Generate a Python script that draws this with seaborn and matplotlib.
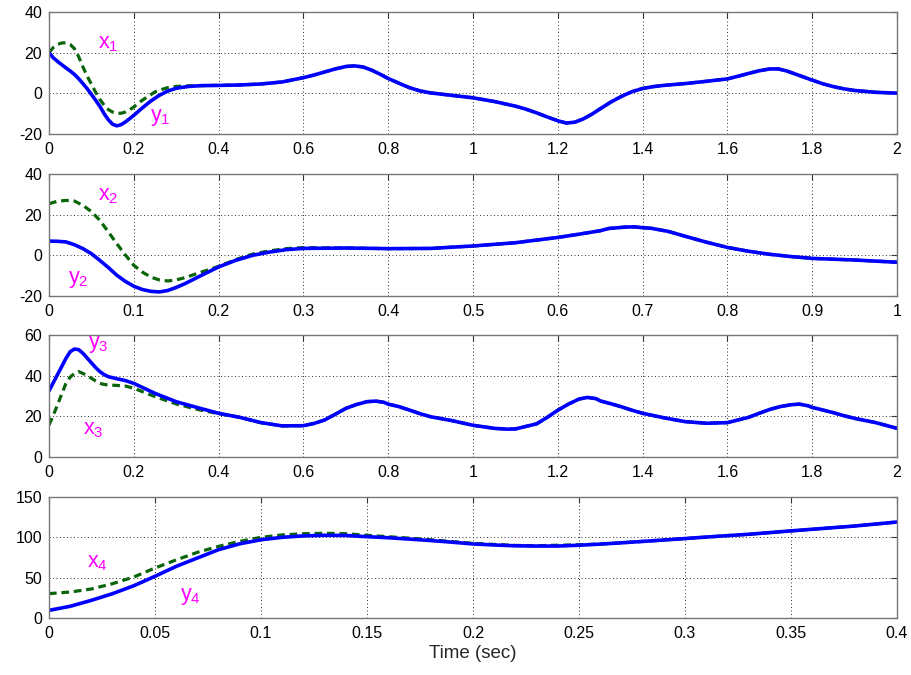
import matplotlib
matplotlib.use("Agg")
import matplotlib.pyplot as plt
from matplotlib.ticker import FormatStrFormatter, MultipleLocator
import seaborn as sns

# ---------------- data ----------------
# Panel 1 (0..2 s)
t1 = [0, 0.01, 0.02, 0.03, 0.04, 0.05, 0.06, 0.07, 0.08, 0.09, 0.1, 0.11,
      0.12, 0.13, 0.14, 0.15, 0.16, 0.17, 0.18, 0.19, 0.2, 0.22, 0.24, 0.26,
      0.28, 0.3, 0.33, 0.36, 0.4, 0.45, 0.5, 0.55, 0.6, 0.625, 0.65, 0.675,
      0.7, 0.72, 0.74, 0.76, 0.78, 0.8, 0.825, 0.85, 0.875, 0.9, 0.95, 1.0,
      1.05, 1.1, 1.125, 1.15, 1.175, 1.2, 1.22, 1.24, 1.26, 1.28, 1.3, 1.325,
      1.35, 1.375, 1.4, 1.425, 1.45, 1.5, 1.55, 1.6, 1.625, 1.65, 1.675, 1.7,
      1.72, 1.74, 1.76, 1.78, 1.8, 1.825, 1.85, 1.875, 1.9, 1.95, 2.0]
y1 = [20, 17.5, 15.7, 14.1, 12.5, 11, 9.3, 7.2, 4.8, 2.3, -0.5, -3.4,
      -6.4, -10, -13, -15.2, -16, -15.4, -14.1, -12.5, -10.8, -7.2, -3.8, -1,
      1.1, 2.5, 3.4, 3.8, 3.9, 4.1, 4.6, 5.6, 7.7, 9, 10.5, 12,
      13.2, 13.5, 13, 11.5, 9.5, 7.3, 5, 2.8, 1.2, 0.2, -1, -2.2,
      -4, -6.3, -7.8, -9.6, -11.6, -13.5, -14.6, -14.2, -12.6, -10.3, -7.6, -4.3,
      -1.5, 0.8, 2.4, 3.3, 3.9, 4.8, 5.9, 7.1, 8.4, 9.8, 11.1, 12.0,
      12.0, 11, 9.5, 8, 6.5, 4.7, 3.3, 2.2, 1.4, 0.5, 0.1]
t1x = [0, 0.01, 0.02, 0.03, 0.04, 0.05, 0.06, 0.07, 0.08, 0.09, 0.1, 0.11,
       0.12, 0.13, 0.14, 0.15, 0.16, 0.17, 0.18, 0.19, 0.2, 0.21, 0.22, 0.23,
       0.25, 0.26, 0.28, 0.3, 0.33]
x1 = [20, 22.5, 24, 24.8, 24.8, 24, 22, 18, 13, 8.5, 4.5, 0.5,
      -3, -5.8, -8, -9.2, -9.8, -9.8, -9.2, -8.2, -6.7, -5, -3.4, -2,
      0.7, 1.5, 2.8, 3.4, 3.7]

# Panel 2 (0..1 s)
t2 = [0, 0.01, 0.02, 0.03, 0.04, 0.05, 0.06, 0.07, 0.08, 0.09, 0.1, 0.11,
      0.12, 0.13, 0.14, 0.15, 0.16, 0.18, 0.2, 0.22, 0.24, 0.26, 0.28, 0.3,
      0.35, 0.4, 0.45, 0.5, 0.55, 0.6, 0.625, 0.65, 0.66, 0.68, 0.69, 0.7,
      0.71, 0.73, 0.75, 0.775, 0.8, 0.825, 0.85, 0.875, 0.9, 0.95, 1.0]
y2 = [7, 6.9, 6.6, 5.2, 3.3, 0.8, -2.5, -6, -9.8, -12.8, -15.2, -16.8,
      -17.7, -18, -17.3, -15.8, -14, -9.8, -5.7, -2.5, 0, 1.6, 2.8, 3.4,
      3.6, 3.3, 3.4, 4.6, 6.2, 8.8, 10.4, 12.1, 13.2, 13.9, 14, 13.6,
      13.3, 11.8, 9.4, 6.5, 3.9, 2, 0.5, -0.6, -1.5, -2.3, -3.4]
t2x = [0, 0.01, 0.02, 0.03, 0.04, 0.05, 0.06, 0.07, 0.08, 0.09, 0.1, 0.11,
       0.12, 0.13, 0.14, 0.15, 0.16, 0.18, 0.2, 0.22, 0.24, 0.26, 0.28, 0.3]
x2 = [25.4, 26.6, 27, 26.7, 24.6, 21.5, 17.2, 11.5, 5.7, 0.2, -4.9, -8.2,
      -10.7, -12.1, -12.6, -12.1, -11, -8.2, -5.4, -2.1, 0.6, 2.2, 3.3, 3.8]

# Panel 3 (0..2 s)
t3 = [0, 0.01, 0.02, 0.03, 0.04, 0.05, 0.06, 0.07, 0.08, 0.09, 0.1, 0.11,
      0.12, 0.13, 0.14, 0.16, 0.18, 0.2, 0.25, 0.3, 0.35, 0.4, 0.45, 0.5,
      0.55, 0.6, 0.625, 0.65, 0.675, 0.7, 0.725, 0.75, 0.77, 0.79, 0.8,
      0.825, 0.85, 0.875, 0.9, 0.95, 1.0, 1.05, 1.08, 1.1, 1.15, 1.175, 1.2,
      1.225, 1.25, 1.27, 1.29, 1.3, 1.325, 1.35, 1.375, 1.4, 1.45, 1.5, 1.55,
      1.6, 1.65, 1.675, 1.7, 1.725, 1.75, 1.77, 1.79, 1.8, 1.825, 1.85,
      1.875, 1.9, 1.95, 2.0]
y3 = [32.5, 36.5, 40.5, 44.5, 48.5, 51.8, 53.1, 52.8, 51, 48.7, 46.3, 44,
      42, 40.5, 39.5, 38.5, 37.6, 36.2, 31.3, 27.2, 24.3, 21.5, 19.5, 16.9,
      15.3, 15.4, 16.5, 18.2, 21, 23.9, 25.8, 27.2, 27.5, 26.9, 26,
      24.8, 23.1, 21.3, 19.8, 17.9, 15.6, 14.1, 13.7, 13.8, 16.3, 19.5, 23,
      26, 28.5, 29.3, 28.7, 27.6, 26.2, 24.7, 23, 21.5, 19.3, 17.4, 16.6,
      16.9, 19.5, 21.5, 23.4, 24.8, 25.7, 26, 25.2, 24.4, 23.1, 21.8,
      20.3, 19, 16.9, 14.1]
t3x = [0, 0.01, 0.02, 0.03, 0.04, 0.05, 0.06, 0.07, 0.08, 0.09, 0.1, 0.11,
       0.12, 0.13, 0.14, 0.16, 0.18, 0.2, 0.25, 0.3, 0.35, 0.4]
x3 = [15.7, 20.5, 25.6, 31, 36.2, 39.3, 41.1, 42, 41.1, 40, 38.7, 37.4,
      36.2, 35.7, 35.4, 35.2, 34.9, 33.8, 29.7, 26.1, 23.4, 21.3]

# Panel 4 (0..0.4 s)
t4 = [0, 0.01, 0.02, 0.03, 0.04, 0.05, 0.06, 0.07, 0.08, 0.09, 0.1, 0.11,
      0.12, 0.13, 0.14, 0.15, 0.16, 0.17, 0.18, 0.19, 0.2, 0.21, 0.22, 0.23,
      0.24, 0.25, 0.26, 0.27, 0.285, 0.3, 0.315, 0.33, 0.35, 0.365, 0.38,
      0.39, 0.4]
y4 = [9.5, 14.5, 21.9, 30.2, 40, 51.7, 64, 74.4, 84.7, 92, 97, 100,
      101.8, 102.5, 102.3, 100.8, 99.5, 97.8, 96, 94, 91.8, 90.5, 89.5, 89.2,
      89.2, 90.2, 91.6, 93.2, 95.8, 98.5, 101.2, 103.8, 108, 111, 114,
      116.5, 119]
t4x = [0, 0.01, 0.02, 0.03, 0.04, 0.05, 0.06, 0.07, 0.08, 0.09, 0.1, 0.11,
       0.12, 0.13, 0.14, 0.15, 0.16, 0.17, 0.18, 0.19, 0.2, 0.21, 0.22, 0.23,
       0.24, 0.25]
x4 = [30.2, 32.2, 36, 42.6, 50.8, 62, 72, 81.4, 88.8, 95, 100, 103,
      104.5, 105, 104.5, 102.5, 100.8, 99, 97, 94.8, 92.6, 91.2, 90, 89.6,
      90.2, 90.8]

# axis limits / ticks per panel
xlims = [(0, 2), (0, 1), (0, 2), (0, 0.4)]
xsteps = [0.2, 0.1, 0.2, 0.05]
ylims = [(-20, 40), (-20, 40), (0, 60), (0, 150)]
ysteps = [20, 20, 20, 50]

# annotation labels: (text, t, value)
labels = [
    [(r"$\mathregular{x_1}$", 0.116, 22.3), (r"$\mathregular{y_1}$", 0.238, -13.5)],
    [(r"$\mathregular{x_2}$", 0.058, 26.9), (r"$\mathregular{y_2}$", 0.0224, -13.5)],
    [(r"$\mathregular{y_3}$", 0.092, 53.5), (r"$\mathregular{x_3}$", 0.080, 11.2)],
    [(r"$\mathregular{x_4}$", 0.0179, 62.4), (r"$\mathregular{y_4}$", 0.0618, 22.4)],
]

# ---------------- style ----------------
sns.set_theme(style="white")
plt.rcParams["font.family"] = ["Liberation Sans", "DejaVu Sans"]
plt.rcParams["mathtext.fontset"] = "custom"
plt.rcParams["mathtext.rm"] = "Liberation Sans"
plt.rcParams["mathtext.it"] = "Liberation Sans:italic"
plt.rcParams["axes.unicode_minus"] = False

BLUE = "#0000ff"
GREEN = "#0a640a"
MAGENTA = "#ff00ff"

fig = plt.figure(figsize=(9.12, 6.75), dpi=100)
W = 912.0
H = 675.0
boxes = [(12, 134), (174, 296), (335, 457), (497, 618)]

panels = [
    (t1, y1, t1x, x1),
    (t2, y2, t2x, x2),
    (t3, y3, t3x, x3),
    (t4, y4, t4x, x4),
]

for i, ((tb, yb, tg, xg), (top, bot)) in enumerate(zip(panels, boxes)):
    ax = fig.add_axes([49 / W, 1 - bot / H, 848 / W, (bot - top) / H])

    # dashed reference trace continues under the solid one once they merge
    tg_full = list(tg) + [t for t in tb if t > tg[-1]]
    xg_full = list(xg) + [v for t, v in zip(tb, yb) if t > tg[-1]]

    sns.lineplot(x=tg_full, y=xg_full, ax=ax, color=GREEN, linewidth=2.3,
                 linestyle="--")
    ax.lines[-1].set_dashes((2.4, 1.5))
    sns.lineplot(x=tb, y=yb, ax=ax, color=BLUE, linewidth=2.6)

    ax.set_xlim(*xlims[i])
    ax.set_ylim(*ylims[i])
    ax.xaxis.set_major_locator(MultipleLocator(xsteps[i]))
    ax.yaxis.set_major_locator(MultipleLocator(ysteps[i]))
    ax.xaxis.set_major_formatter(FormatStrFormatter("%g"))
    ax.yaxis.set_major_formatter(FormatStrFormatter("%g"))

    ax.grid(True, linestyle=(0, (1, 2.6)), color="#333333", linewidth=0.7)
    ax.tick_params(direction="in", length=4, width=0.8, color="#333333",
                   top=True, right=True, labelsize=11.5, labelcolor="black")
    ax.tick_params(axis="x", pad=6)
    ax.tick_params(axis="y", pad=5)
    for s in ax.spines.values():
        s.set_color("#777777")
        s.set_linewidth(1.0)
    ax.set_ylabel("")
    ax.set_xlabel("")

    for txt, tx, vy in labels[i]:
        ax.text(tx, vy, txt, color=MAGENTA, fontsize=15.5, ha="left",
                va="baseline")

    if i == 3:
        ax.set_xlabel("Time (sec)", fontsize=13.5, labelpad=3)

fig.savefig("out.png", dpi=100)
